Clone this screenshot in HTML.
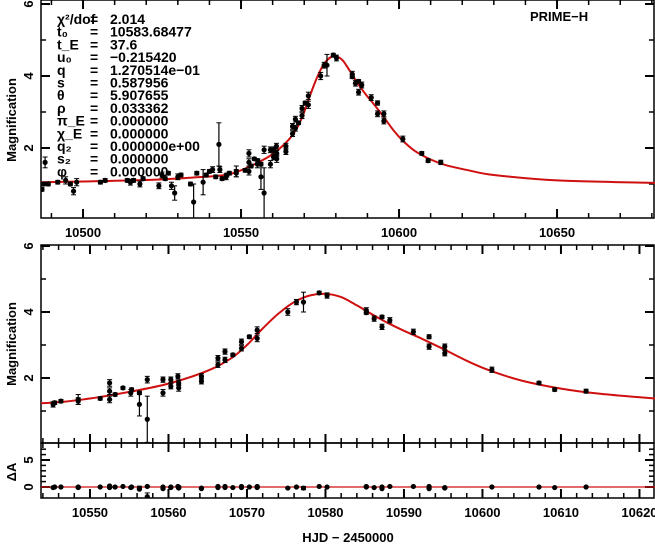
<!DOCTYPE html>
<html><head><meta charset="utf-8"><style>
html,body{margin:0;padding:0;background:#fff}
svg{display:block}
text{font-family:"Liberation Sans",sans-serif;font-weight:bold;fill:#000}
</style></head><body>
<svg id="c" width="655" height="545" viewBox="0 0 655 545">
<g id="params" font-size="14">
</g>
<text x="530" y="21" font-size="13" font-family="Liberation Serif">PRIME−H</text>
<text transform="translate(16,120) rotate(-90)" text-anchor="middle" font-size="13">Magnification</text>
<text transform="translate(16,344) rotate(-90)" text-anchor="middle" font-size="13">Magnification</text>
<text transform="translate(16,472) rotate(-90)" text-anchor="middle" font-size="13">ΔA</text>
<text x="348" y="542" text-anchor="middle" font-size="13" font-family="Liberation Serif">HJD − 2450000</text>
</svg>
<script>
const earlyT=[10487,10487.5,10488,10489,10492,10494.5,10496,10497,10498,10505.5,10507,10514,10515,10516,10518,10519,10524,10525,10526,10527,10528,10529,10530,10531,10534,10535,10536,10538,10539,10540,10541,10542,10543,10543.3,10544];
const earlyA=[0.85,1.0,1.6,1.0,1.05,1.1,1.0,0.8,1.05,1.05,1.1,1.1,1.05,1.1,1.0,1.15,0.95,1.25,1.15,1.3,0.95,0.75,1.2,1.25,1.0,0.5,1.3,1.05,1.25,1.35,1.4,1.2,2.1,1.4,1.15];
const earlyE=[0.05,0.05,0.15,0.05,0.05,0.1,0.05,0.1,0.1,0.05,0.05,0.05,0.08,0.05,0.08,0.05,0.08,0.08,0.05,0.05,0.1,0.2,0.08,0.05,0.05,0.5,0.05,0.35,0.05,0.05,0.08,0.05,0.6,0.08,0.05];
const lateT=[10545.3,10545.5,10546.3,10548.5,10548.5,10551.3,10552.5,10552.5,10552.5,10553.2,10554.2,10555.2,10555.3,10556.3,10556.3,10557.3,10557.3,10559.3,10559.3,10560.3,10560.3,10561.2,10561.3,10561.3,10564.2,10564.2,10566.3,10566.3,10567.2,10567.2,10568.2,10569.3,10569.3,10570.3,10571.3,10571.3,10575.2,10576.3,10577.2,10579.2,10580.2,10585.2,10585.2,10586.2,10587.2,10587.2,10588.2,10591.2,10593.2,10593.2,10595.2,10595.2,10601.2,10607.2,10609.2,10613.2];
const lateA=[1.2,1.25,1.3,1.35,1.3,1.38,1.85,1.6,1.35,1.5,1.7,1.55,1.65,1.55,1.2,1.95,0.75,1.95,1.55,1.95,1.75,2.05,1.7,1.85,2.05,1.9,2.6,2.4,2.8,2.55,2.7,3.1,2.9,3.25,3.45,3.2,4.0,4.3,4.3,4.58,4.5,4.05,3.98,3.8,3.85,3.55,3.75,3.4,3.25,2.95,2.95,2.75,2.25,1.85,1.65,1.6];
const lateE=[0.08,0.05,0.05,0.15,0.1,0.05,0.1,0.1,0.1,0.05,0.04,0.1,0.05,0.05,0.35,0.1,0.7,0.08,0.1,0.08,0.08,0.08,0.1,0.08,0.08,0.08,0.08,0.08,0.08,0.08,0.05,0.08,0.08,0.05,0.1,0.1,0.1,0.08,0.3,0.05,0.08,0.08,0.05,0.08,0.05,0.08,0.08,0.08,0.06,0.08,0.08,0.08,0.08,0.05,0.05,0.06];
const resid=[-0.1,0,0,0,-0.1,0,0.2,0,-0.1,0,0.1,-0.1,0,-0.4,-0.2,0.1,-1.8,0,-0.3,0,-0.1,0.1,-0.2,0,-0.3,-0.2,0.1,-0.1,0.1,-0.1,-0.1,0.1,-0.1,0,0.1,-0.1,-0.2,0,-0.2,0.1,0,0.1,0,-0.1,0,-0.3,0.1,0.1,0.1,-0.3,-0.1,-0.2,0,0,-0.1,0];
const modelT=[10486.7,10500,10520,10535,10545,10550,10555,10560,10565,10568,10570,10572,10574,10576,10578,10580,10582,10584,10586,10588,10590,10592,10595,10598,10601,10605,10610,10615,10622,10630,10650,10681];
const modelA=[1.05,1.07,1.11,1.18,1.25,1.38,1.58,1.83,2.22,2.6,3.0,3.5,3.95,4.3,4.5,4.55,4.45,4.2,3.92,3.66,3.43,3.22,2.88,2.52,2.22,1.92,1.68,1.52,1.38,1.25,1.1,1.03];
const paramLabels=["χ²/dof","t₀","t_E","u₀","q","s","θ","ρ","π_E","χ_E","q₂","s₂","φ"];
const paramValues=["2.014","10583.68477","37.6","−0.215420","1.270514e−01","0.587956","5.907655","0.033362","0.000000","0.000000","0.000000e+00","0.000000","0.000000"];

const NS="http://www.w3.org/2000/svg";
const svg=document.getElementById('c');
function mk(tag,attrs,parent){const e=document.createElementNS(NS,tag);for(const k in attrs)e.setAttribute(k,attrs[k]);(parent||svg).appendChild(e);return e;}
const L=41,R=655;
const P1={t0:10486.7,t1:10681,y0:0,y1:218,v:v=>148-(v-2)*36};
const P2={t0:10543.76,t1:10621.98,y0:245,y1:443,v:v=>378-(v-2)*33};
const P3={t0:10543.76,t1:10621.98,y0:443,y1:498,v:v=>487-v*5.4};
function xs(P,t){return L+(t-P.t0)/(P.t1-P.t0)*(R-L);}

const pg=document.getElementById('params');
paramLabels.forEach((lab,i)=>{
  const y=20+i*12.7;
  const t=mk('text',{x:57,y:y+4},pg);t.textContent=lab;
  
  
  const e=mk('text',{x:90,y:y+4},pg);e.textContent='=';
  
  
  const v=mk('text',{x:110,y:y+4},pg);v.textContent=paramValues[i];
  
  
});

function clip(id,P){const cp=mk('clipPath',{id:id});mk('rect',{x:L,y:P.y0,width:R-L,height:P.y1-P.y0},cp);}
clip('c1',P1);clip('c2',P2);clip('c3',P3);

function frame(P,name,xMaj,xMin,xLab,yTicks,yMin,yLabels){
  const g=mk('g',{});
  
  
  mk('rect',{x:L,y:P.y0,width:R-L-1,height:P.y1-P.y0,fill:'none',stroke:'#000','stroke-width':1.5},g);
  for(let t=Math.ceil(P.t0/xMin)*xMin;t<=P.t1;t+=xMin){
    const x=xs(P,t);const maj=Math.abs(t/xMaj-Math.round(t/xMaj))<1e-6;const len=maj?9:5;
    mk('line',{x1:x,x2:x,y1:P.y1,y2:P.y1-len,stroke:'#000','stroke-width':maj?2:1.5},g);
    mk('line',{x1:x,x2:x,y1:P.y0,y2:P.y0+len,stroke:'#000','stroke-width':maj?2:1.5},g);
    if(maj&&xLab){const tx=mk('text',{x:x,y:P.y1+19,'text-anchor':'middle','font-size':13},g);tx.textContent=t;
      
      }
  }
  yTicks.forEach(v=>{const y=P.v(v);mk('line',{x1:L,x2:L+9,y1:y,y2:y,stroke:'#000','stroke-width':2},g);mk('line',{x1:R-1,x2:R-10,y1:y,y2:y,stroke:'#000','stroke-width':2},g);});
  yMin.forEach(v=>{const y=P.v(v);mk('line',{x1:L,x2:L+5,y1:y,y2:y,stroke:'#000','stroke-width':1.5},g);mk('line',{x1:R-1,x2:R-6,y1:y,y2:y,stroke:'#000','stroke-width':1.5},g);});
  yLabels.forEach(v=>{const y=P.v(v);const tx=mk('text',{transform:`translate(33,${y}) rotate(-90)`,'text-anchor':'middle','font-size':13},g);tx.textContent=v;
    
    });
}
frame(P1,'top-panel',50,10,true,[2,4,6],[1,3,5],[2,4,6]);
frame(P2,'zoom-panel',10,2,false,[2,4,6],[1,3,5],[2,4,6]);
frame(P3,'residual-panel',10,2,true,[0,5],[1,2,3,4,6,7],[0,5]);

function model(P,cid,name){
  const px=modelT.map(t=>xs(P,t)), py=modelA.map(a=>P.v(a));
  let d=`M${px[0].toFixed(1)},${py[0].toFixed(1)}`;
  for(let i=0;i<px.length-1;i++){
    const i0=Math.max(0,i-1),i3=Math.min(px.length-1,i+2);
    const c1x=px[i]+(px[i+1]-px[i0])/6,c1y=py[i]+(py[i+1]-py[i0])/6;
    const c2x=px[i+1]-(px[i3]-px[i])/6,c2y=py[i+1]-(py[i3]-py[i])/6;
    d+=` C${c1x.toFixed(1)},${c1y.toFixed(1)} ${c2x.toFixed(1)},${c2y.toFixed(1)} ${px[i+1].toFixed(1)},${py[i+1].toFixed(1)}`;
  }
  const p=mk('path',{d:d,fill:'none',stroke:'#d01010','stroke-width':2,'clip-path':`url(#${cid})`});
  
  
}
function points(P,cid,T,A,E,name){
  const g=mk('g',{'clip-path':`url(#${cid})`});
  
  
  T.forEach((t,i)=>{
    const x=xs(P,t),y=P.v(A[i]),ya=P.v(A[i]+E[i]),yb=P.v(A[i]-E[i]);
    mk('line',{x1:x,x2:x,y1:ya,y2:yb,stroke:'#000','stroke-width':1.2},g);
    mk('line',{x1:x-2.5,x2:x+2.5,y1:ya,y2:ya,stroke:'#000','stroke-width':1},g);
    mk('line',{x1:x-2.5,x2:x+2.5,y1:yb,y2:yb,stroke:'#000','stroke-width':1},g);
    const c=mk('circle',{cx:x,cy:y,r:2.6,fill:'#000'},g);
    
    
  });
}
model(P1,'c1','top-model-curve');
points(P1,'c1',earlyT,earlyA,earlyE,'top-early-points');
points(P1,'c1',lateT,lateA,lateE,'top-late-points');
model(P2,'c2','zoom-model-curve');
points(P2,'c2',lateT,lateA,lateE,'zoom-points');
const zl=mk('line',{x1:L,x2:R,y1:P3.v(0),y2:P3.v(0),stroke:'#d01010','stroke-width':1.2});


points(P3,'c3',lateT,resid,lateE,'residual-points');
</script>
</body></html>
